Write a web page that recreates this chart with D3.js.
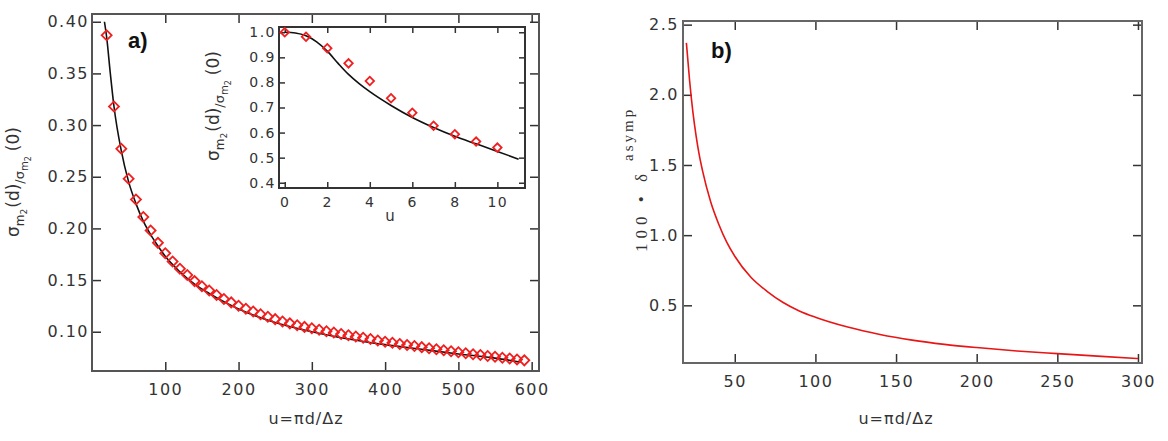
<!DOCTYPE html>
<html>
<head>
<meta charset="utf-8">
<script src="https://cdn.jsdelivr.net/npm/d3@7"></script>
<style>
  body { margin: 0; background: #fff; }
  .tick text { fill: #333; letter-spacing: 1.5px; }
  .tick line { stroke: #333; stroke-width: 1.5; }
  .domain { display: none; }
</style>
</head>
<body>
<div id="chart"></div>
<script>
// panel a) data: simulated points (diamonds) every 10 in u
const uMain = [20, 30, 40, 50, 60, 70, 80, 90, 100, 110, 120, 130, 140, 150, 160, 170, 180, 190,
  200, 210, 220, 230, 240, 250, 260, 270, 280, 290, 300, 310, 320, 330, 340, 350, 360, 370, 380, 390,
  400, 410, 420, 430, 440, 450, 460, 470, 480, 490, 500, 510, 520, 530, 540, 550, 560, 570, 580, 590]
const sigMain = [0.387, 0.318, 0.277, 0.248, 0.228, 0.211, 0.198, 0.186, 0.176, 0.168, 0.161, 0.155, 0.149, 0.144, 0.140, 0.1355, 0.1316, 0.1284,
  0.1252, 0.1222, 0.1195, 0.1170, 0.1145, 0.1122, 0.1100, 0.1081, 0.1063, 0.1047, 0.1033, 0.1019, 0.1005, 0.0992, 0.0979, 0.0966, 0.0953, 0.0941, 0.0929, 0.0916,
  0.0904, 0.0893, 0.0882, 0.0871, 0.0861, 0.0851, 0.0841, 0.0831, 0.0821, 0.0811, 0.0801, 0.0792, 0.0783, 0.0774, 0.0765, 0.0757, 0.0748, 0.0740, 0.0731, 0.0723]

// panel a) analytic curve (black)
const uCurve = [17, 20, 25, 30, 40, 50, 60, 70, 80, 90, 100, 120, 140, 160, 180, 200, 250, 300, 350, 400, 450, 500, 550, 585]
const sigCurve = [0.400, 0.385, 0.350, 0.318, 0.275, 0.245, 0.224, 0.207, 0.194, 0.183, 0.173, 0.158, 0.146, 0.137, 0.129, 0.122, 0.109, 0.100, 0.093, 0.0875, 0.083, 0.0785, 0.0745, 0.0705]

// inset data
const uInset = [0, 1, 2, 3, 4, 5, 6, 7, 8, 9, 10]
const sigInset = [1.0, 0.982, 0.936, 0.876, 0.806, 0.737, 0.679, 0.627, 0.593, 0.564, 0.540]
const uInsetCurve = [0, 0.5, 1, 1.5, 2, 2.5, 3, 3.5, 4, 5, 6, 7, 8, 9, 10, 11]
const sigInsetCurve = [1.0, 0.997, 0.986, 0.962, 0.925, 0.877, 0.832, 0.795, 0.763, 0.708, 0.660, 0.620, 0.585, 0.555, 0.525, 0.494]

// panel b) asymptotic deviation (red line)
const uB = [20, 22, 24, 26, 28, 30, 35, 40, 45, 50, 60, 70, 80, 90, 100, 120, 140, 160, 180, 200, 225, 250, 275, 300]
const deltaB = [2.37, 2.10, 1.88, 1.71, 1.57, 1.46, 1.24, 1.08, 0.95, 0.85, 0.70, 0.60, 0.52, 0.46, 0.415, 0.345, 0.292, 0.252, 0.222, 0.199, 0.175, 0.156, 0.138, 0.121]

// tick values
const xTicksA = [100, 200, 300, 400, 500, 600]
const yTicksA = [0.10, 0.15, 0.20, 0.25, 0.30, 0.35, 0.40]
const xTicksI = [0, 2, 4, 6, 8, 10]
const yTicksI = [0.4, 0.5, 0.6, 0.7, 0.8, 0.9, 1.0]
const xTicksB = [50, 100, 150, 200, 250, 300]
const yTicksB = [0.5, 1.0, 1.5, 2.0, 2.5]

const width = 1168
const height = 441

var svg = d3.select("#chart")
  .append("svg")
  .attr("width", width)
  .attr("height", height)
  .style("font-family", "'DejaVu Sans', sans-serif")

svg.append("rect").attr("width", width).attr("height", height).attr("fill", "#fff")

// scales
var xA = d3.scaleLinear().domain([0, 610]).range([92, 539])
var yA = d3.scaleLinear().domain([0.062, 0.4075]).range([371, 14])
var xI = d3.scaleLinear().domain([-0.27, 11.3]).range([279, 525])
var yI = d3.scaleLinear().domain([0.379, 1.021]).range([188, 27])
var xB = d3.scaleLinear().domain([17.9, 302.5]).range([683, 1142])
var yB = d3.scaleLinear().domain([0.089, 2.526]).range([363, 21])

// draws a box with inward ticks on all 4 sides
function frame(x, y, xt, yt, fx, fy, o) {
  var g = svg.append("g")
  var x0 = x.range()[0], x1 = x.range()[1]
  var y0 = y.range()[0], y1 = y.range()[1]
  g.append("rect")
    .attr("x", x0).attr("y", y1)
    .attr("width", x1 - x0).attr("height", y0 - y1)
    .attr("fill", "#fff")
  g.append("g").attr("transform", "translate(0," + y0 + ")")
    .call(d3.axisBottom(x).tickValues(xt).tickSize(-o.tl).tickPadding(o.padX).tickFormat(fx))
    .attr("font-size", o.fs).attr("font-family", null)
  g.append("g").attr("transform", "translate(0," + y1 + ")")
    .call(d3.axisTop(x).tickValues(xt).tickSize(-o.tl).tickFormat(""))
  g.append("g").attr("transform", "translate(" + x0 + ",0)")
    .call(d3.axisLeft(y).tickValues(yt).tickSize(-o.tl).tickPadding(o.padY).tickFormat(fy))
    .attr("font-size", o.fs).attr("font-family", null)
  g.append("g").attr("transform", "translate(" + x1 + ",0)")
    .call(d3.axisRight(y).tickValues(yt).tickSize(-o.tl).tickFormat(""))
  g.append("rect")
    .attr("x", x0).attr("y", y1)
    .attr("width", x1 - x0).attr("height", y0 - y1)
    .attr("fill", "none")
    .attr("stroke", o.stroke)
    .attr("stroke-width", 2)
  return g
}

// ---- panel a
frame(xA, yA, xTicksA, yTicksA, d3.format("d"), d3.format(".2f"), {tl: 9, padX: 13, padY: 3, fs: 16, stroke: "#555"})

var lineA = d3.line()
  .x(function(d, i) { return xA(uCurve[i]) })
  .y(function(d) { return yA(d) })
  .curve(d3.curveMonotoneX)

svg.append("path")
  .datum(sigCurve)
  .attr("d", lineA)
  .attr("fill", "none")
  .attr("stroke", "#111")
  .attr("stroke-width", 1.6)

var diamond = d3.symbol().type(d3.symbolSquare).size(50)
svg.append("g")
  .selectAll("path")
  .data(sigMain)
  .enter().append("path")
    .attr("d", diamond)
    .attr("transform", function(d, i) { return "translate(" + xA(uMain[i]) + "," + yA(d) + ") rotate(45)" })
    .attr("fill", "none")
    .attr("stroke", "#f02020")
    .attr("stroke-width", 1.8)

// ---- inset
frame(xI, yI, xTicksI, yTicksI, d3.format("d"), d3.format(".1f"), {tl: 6, padX: 9, padY: 3, fs: 14, stroke: "#333"})

var lineI = d3.line()
  .x(function(d, i) { return xI(uInsetCurve[i]) })
  .y(function(d) { return yI(d) })
  .curve(d3.curveMonotoneX)

svg.append("path")
  .datum(sigInsetCurve)
  .attr("d", lineI)
  .attr("fill", "none")
  .attr("stroke", "#111")
  .attr("stroke-width", 1.6)

var smallDiamond = d3.symbol().type(d3.symbolSquare).size(36)
svg.append("g")
  .selectAll("path")
  .data(sigInset)
  .enter().append("path")
    .attr("d", smallDiamond)
    .attr("transform", function(d, i) { return "translate(" + xI(uInset[i]) + "," + yI(d) + ") rotate(45)" })
    .attr("fill", "none")
    .attr("stroke", "#f02020")
    .attr("stroke-width", 1.8)

// ---- panel b
frame(xB, yB, xTicksB, yTicksB, d3.format("d"), d3.format(".1f"), {tl: 9, padX: 13, padY: 4, fs: 16, stroke: "#666"})

var lineB = d3.line()
  .x(function(d, i) { return xB(uB[i]) })
  .y(function(d) { return yB(d) })
  .curve(d3.curveMonotoneX)

svg.append("path")
  .datum(deltaB)
  .attr("d", lineB)
  .attr("fill", "none")
  .attr("stroke", "#e81515")
  .attr("stroke-width", 1.6)

// ---- labels
function sigmaLabel(x, y) {
  var t = svg.append("text")
    .attr("transform", "translate(" + x + "," + y + ") rotate(-90)")
    .attr("text-anchor", "middle")
    .attr("fill", "#333")
    .attr("font-size", 17)
  t.append("tspan").text("σ")
  t.append("tspan").attr("font-size", 12).attr("dy", 5).text("m")
  t.append("tspan").attr("font-size", 9).attr("dy", 3).text("2")
  t.append("tspan").attr("font-size", 17).attr("dy", -8).attr("dx", 1).text("(d)")
  t.append("tspan").attr("font-size", 13).attr("dy", 5).text("/σ")
  t.append("tspan").attr("font-size", 10).attr("dy", 4).text("m")
  t.append("tspan").attr("font-size", 8).attr("dy", 3).text("2")
  t.append("tspan").attr("font-size", 17).attr("dy", -12).attr("dx", 5).text("(0)")
}
sigmaLabel(19, 182)
sigmaLabel(219, 106)

svg.append("text")
  .attr("x", 306).attr("y", 424)
  .attr("text-anchor", "middle")
  .attr("font-size", 16)
  .attr("letter-spacing", 1)
  .attr("fill", "#333")
  .text("u=πd/Δz")

svg.append("text")
  .attr("x", 896).attr("y", 424)
  .attr("text-anchor", "middle")
  .attr("font-size", 16)
  .attr("letter-spacing", 1)
  .attr("fill", "#333")
  .text("u=πd/Δz")

svg.append("text")
  .attr("x", 390).attr("y", 221)
  .attr("text-anchor", "middle")
  .attr("font-size", 15)
  .attr("fill", "#333")
  .text("u")

var lb = svg.append("text")
  .attr("transform", "translate(647,252) rotate(-90)")
  .attr("font-family", "'Liberation Serif', serif")
  .attr("font-size", 17)
  .attr("letter-spacing", 5)
  .attr("fill", "#333")
lb.append("tspan").text("100 • δ")
lb.append("tspan").attr("font-size", 15).attr("dy", -14).attr("dx", 8).attr("letter-spacing", 3).text("asymp")

svg.append("text")
  .attr("x", 128).attr("y", 48)
  .attr("font-family", "'Liberation Sans', Arial, sans-serif")
  .attr("font-weight", "bold")
  .attr("font-size", 22)
  .attr("fill", "#111")
  .text("a)")

svg.append("text")
  .attr("x", 711).attr("y", 58)
  .attr("font-family", "'Liberation Sans', Arial, sans-serif")
  .attr("font-weight", "bold")
  .attr("font-size", 22)
  .attr("fill", "#111")
  .text("b)")
</script>
</body>
</html>
